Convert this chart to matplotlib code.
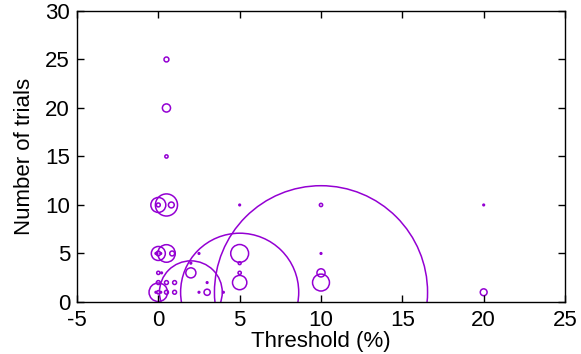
import matplotlib
matplotlib.use("Agg")
import matplotlib.pyplot as plt
from matplotlib.patches import Ellipse

# ── data: threshold (%), number of trials, bubble radius (in x units) ─────────
threshold = [0.5, 0.5, 0.5,
             0, 0, 0.5, 0.8, 5, 10, 20,
             0, 0, -0.15, 0.15, 0.5, 0.85, 2.5, 5, 10,
             2, 5,
             0, 0.2, 2, 5, 10,
             0, 0.5, 1, 3, 5, 10,
             0, 0, -0.15, 0.15, 0.5, 1, 2, 2.5, 3, 4, 5, 10, 20]
trials = [25, 20, 15,
          10, 10, 10, 10, 10, 10, 10,
          5, 5, 5, 5, 5, 5, 5, 5, 5,
          4, 4,
          3, 3, 3, 3, 3,
          2, 2, 2, 2, 2, 2,
          1, 1, 1, 1, 1, 1, 1, 1, 1, 1, 1, 1, 1]
radius = [0.15, 0.25, 0.1,
          0.46, 0.12, 0.68, 0.18, 0.05, 0.1, 0.05,
          0.43, 0.14, 0.05, 0.05, 0.54, 0.15, 0.05, 0.55, 0.05,
          0.05, 0.09,
          0.1, 0.05, 0.31, 0.1, 0.25,
          0.12, 0.12, 0.12, 0.05, 0.44, 0.52,
          0.57, 0.1, 0.05, 0.05, 0.12, 0.12, 1.93, 0.05, 0.19, 0.05, 3.63, 6.55, 0.21]

COLOR = "#9400D3"

plt.rcParams["font.family"] = ["Liberation Sans", "DejaVu Sans"]
plt.rcParams["font.size"] = 16
plt.rcParams["axes.unicode_minus"] = False

fig = plt.figure(figsize=(5.81, 3.54), dpi=100)
ax = fig.add_axes([0.1325, 0.147, 0.84, 0.822])
ax.set_xlim(-5, 25)
ax.set_ylim(0, 30)

# circles are round on screen, radius given in x units (gnuplot style)
bbox = ax.get_window_extent()
x_px = bbox.width / 30.0
y_px = bbox.height / 30.0
for x, y, r in zip(threshold, trials, radius):
    ax.add_patch(Ellipse((x, y), 2 * r, 2 * r * x_px / y_px,
                         fill=False, edgecolor=COLOR, linewidth=1.1,
                         clip_on=True))

ax.set_xticks(range(-5, 26, 5))
ax.set_yticks(range(0, 31, 5))
ax.tick_params(direction="in", top=True, right=True, length=5, width=1)
ax.tick_params(axis="x", pad=6)
ax.tick_params(axis="y", pad=5)
for s in ax.spines.values():
    s.set_linewidth(1)
ax.set_xlabel("Threshold (%)", labelpad=0)
ax.set_ylabel("Number of trials", labelpad=7)

fig.savefig("out.png", dpi=100)
